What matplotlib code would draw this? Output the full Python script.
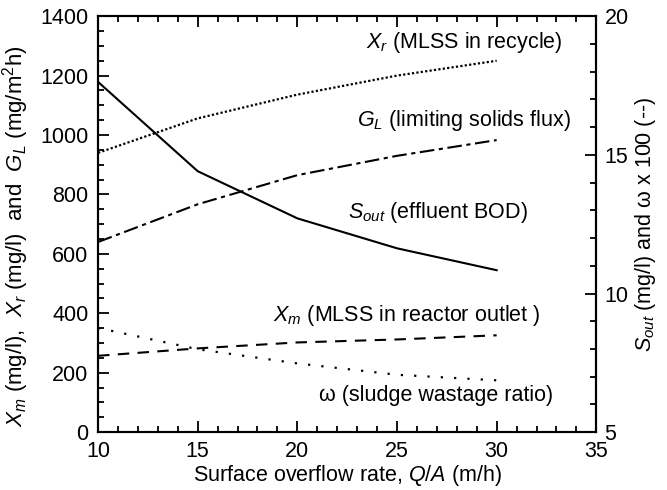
import numpy as np
import matplotlib
matplotlib.use('Agg')
import matplotlib.pyplot as plt
from matplotlib.ticker import MultipleLocator

plt.rcParams['font.family'] = ['Liberation Sans', 'DejaVu Sans']
plt.rcParams['mathtext.fontset'] = 'custom'
plt.rcParams['mathtext.rm'] = 'Liberation Sans'
plt.rcParams['mathtext.it'] = 'Liberation Sans:italic'

# surface overflow rate Q/A (m/h)
qa = [10, 15, 20, 25, 30]
# left axis (mg/l, mg/m2h)
x_r = [940, 1056, 1136, 1200, 1250]
g_l = [640, 767, 865, 930, 983]
x_m = [257, 282, 302, 312, 326]
# right axis
s_out = [17.63, 14.41, 12.71, 11.63, 10.84]
omega100 = [8.76, 7.99, 7.48, 7.07, 6.87]

fig = plt.figure(figsize=(6.67, 4.9), dpi=100)
ax = fig.add_axes([0.147, 0.118, 0.747, 0.849])
ax2 = ax.twinx()

lw = 1.5
ax.plot(qa, x_r, color='black', lw=1.6, linestyle=(0, (1, 1)))
ax.plot(qa, g_l, color='black', lw=lw, linestyle=(0, (7, 2.2, 2, 2.2)))
ax.plot(qa, x_m, color='black', lw=lw, linestyle=(0, (5.5, 4)))
ax2.plot(qa, s_out, color='black', lw=lw, linestyle='-')
ax2.plot(qa, omega100, color='black', lw=1.6, linestyle=(0, (1, 5)))

ax.set_xlim(10, 35)
ax.set_ylim(0, 1400)
ax2.set_ylim(5, 20)

ax.xaxis.set_major_locator(MultipleLocator(5))
ax.xaxis.set_minor_locator(MultipleLocator(1))
ax.yaxis.set_major_locator(MultipleLocator(200))
ax.yaxis.set_minor_locator(MultipleLocator(50))
ax2.yaxis.set_major_locator(MultipleLocator(5))
ax2.yaxis.set_minor_locator(MultipleLocator(1))

fs = 15.5
ax.tick_params(which='both', direction='in', top=True, labelsize=fs, width=1.3)
ax.tick_params(axis='y', which='both', pad=7)
ax.tick_params(axis='x', which='both', pad=6)
ax.tick_params(which='major', length=8)
ax.tick_params(which='minor', length=4)
ax2.tick_params(which='both', direction='in', labelsize=fs, width=1.3, pad=6)
ax2.tick_params(which='major', length=8)
ax2.tick_params(which='minor', length=4)
for a in (ax, ax2):
    for s in a.spines.values():
        s.set_linewidth(1.5)

ax.set_xlabel('Surface overflow rate, $Q/A$ (m/h)', fontsize=fs, labelpad=1)
ax.set_ylabel('$X_m$ (mg/l),  $X_r$ (mg/l)  and  $G_L$ (mg/m$^2$h)', fontsize=16)
ax.yaxis.set_label_coords(-0.135, 0.47)
ax2.set_ylabel('$S_{out}$ (mg/l) and ω x 100 (--)', fontsize=fs, labelpad=3)

ax.text(33.3, 1313, '$X_r$ (MLSS in recycle)', ha='right', va='center', fontsize=fs)
ax.text(33.7, 1050, '$G_L$ (limiting solids flux)', ha='right', va='center', fontsize=fs)
ax.text(31.55, 740, '$S_{out}$ (effluent BOD)', ha='right', va='center', fontsize=fs)
ax.text(32.2, 394, '$X_m$ (MLSS in reactor outlet )', ha='right', va='center', fontsize=fs)
ax.text(32.85, 125, 'ω (sludge wastage ratio)', ha='right', va='center', fontsize=fs)

fig.savefig('out.png', dpi=100)
